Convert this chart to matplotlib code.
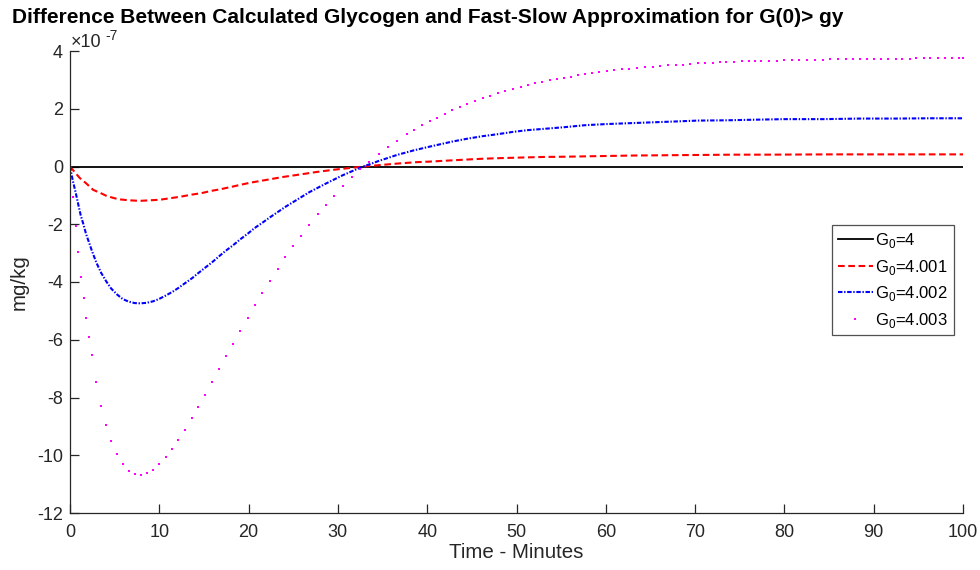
import numpy as np
import matplotlib
matplotlib.use("Agg")
import matplotlib.pyplot as plt

plt.rcParams['font.family'] = ['Liberation Sans', 'DejaVu Sans']
plt.rcParams['mathtext.fontset'] = 'custom'
plt.rcParams['mathtext.rm'] = 'Liberation Sans'
plt.rcParams['axes.unicode_minus'] = False
plt.rcParams['lines.scale_dashes'] = False

# difference values are in units of 1e-7 mg/kg, time in minutes
t_g4 = [0, 100]
d_g4 = [0, 0]

t_g4001 = [0, 0.6, 1.1, 1.8, 2.6, 3.5, 4.1, 5.0, 5.6, 6.6, 7.8, 9.0, 10.1, 11.4,
           12.3, 13.7, 14.6, 15.9, 16.8, 18.3, 19.0, 20.2, 21.5, 23.9, 25.9, 27.6,
           29.6, 31.4, 32.9, 35.1, 36.6, 38.8, 40.3, 42.6, 44.4, 46.3, 48.2, 50.5,
           53.0, 55.6, 59.3, 63.1, 66.8, 70.6, 74.3, 78.0, 85.5, 93.0, 100]
d_g4001 = [0, -0.22, -0.40, -0.58, -0.81, -0.93, -1.02, -1.10, -1.14, -1.17, -1.19,
           -1.17, -1.15, -1.09, -1.05, -0.97, -0.93, -0.84, -0.79, -0.69, -0.64, -0.56,
           -0.49, -0.36, -0.27, -0.19, -0.11, -0.05, 0.0, 0.06, 0.10, 0.15, 0.17, 0.21,
           0.24, 0.27, 0.29, 0.31, 0.33, 0.34, 0.36, 0.38, 0.39, 0.40, 0.41, 0.41, 0.42,
           0.42, 0.42]

t_g4002 = [0, 0.3, 0.64, 0.93, 1.2, 1.5, 1.8, 2.13, 2.43, 2.94, 3.5, 4.06, 4.59, 5.26,
           5.9, 6.57, 7.24, 7.91, 8.59, 9.29, 9.96, 10.71, 11.42, 12.12, 12.84, 13.66,
           14.33, 15.11, 15.9, 16.65, 17.43, 18.25, 19.03, 19.89, 20.68, 21.53, 22.39,
           23.25, 24.1, 25.0, 26.79, 28.66, 30.56, 32.5, 34.56, 36.61, 38.51, 40.3,
           42.76, 44.44, 46.2, 47.91, 49.63, 51.27, 52.91, 55.3, 57.65, 60.11, 62.65,
           65.23, 67.84, 70.3, 73.51, 76.57, 80.0, 84.3, 88.44, 92.46, 96.35, 100]
d_g4002 = [0, -0.47, -0.91, -1.32, -1.69, -2.0, -2.34, -2.63, -2.90, -3.32, -3.69,
           -3.98, -4.22, -4.43, -4.59, -4.68, -4.73, -4.74, -4.72, -4.67, -4.59, -4.47,
           -4.35, -4.21, -4.05, -3.87, -3.70, -3.51, -3.32, -3.12, -2.92, -2.73, -2.53,
           -2.33, -2.13, -1.95, -1.76, -1.58, -1.40, -1.23, -0.89, -0.59, -0.30, -0.04,
           0.19, 0.40, 0.56, 0.69, 0.86, 0.96, 1.05, 1.12, 1.20, 1.26, 1.30, 1.36, 1.43,
           1.47, 1.50, 1.53, 1.56, 1.59, 1.60, 1.62, 1.64, 1.64, 1.66, 1.66, 1.67, 1.67]

# solver output points for G0 = 4.003
t_g4003 = [0, 0.30, 0.64, 0.93, 1.20, 1.53, 1.79, 2.13, 2.43, 2.94, 3.50, 4.06, 4.59,
           5.26, 5.90, 6.57, 7.24, 7.91, 8.59, 9.29, 9.96, 10.71, 11.42, 12.12, 12.84,
           13.66, 14.33, 15.11, 15.90, 16.65, 17.43, 18.25, 19.03, 19.89, 20.68, 21.53,
           22.39, 23.25, 24.10, 25.00, 25.86, 26.79, 27.73, 28.66, 29.59, 30.56, 31.53,
           32.50, 33.50, 34.56, 35.60, 36.61, 37.69, 38.51, 39.40, 40.30, 41.08, 41.94,
           42.76, 43.62, 44.44, 45.34, 46.20, 47.05, 47.91, 48.73, 49.63, 50.45, 51.27,
           52.09, 52.91, 53.73, 54.51, 55.30, 56.08, 56.87, 57.65, 58.44, 59.25, 60.11,
           60.93, 61.79, 62.65, 63.51, 64.37, 65.23, 66.12, 66.98, 67.84, 68.66, 69.48,
           70.30, 71.12, 71.98, 72.80, 73.51, 74.37, 75.23, 76.05, 76.70, 77.39, 78.25,
           79.15, 79.96, 80.82, 81.68, 82.54, 83.40, 84.29, 85.15, 86.01, 86.87, 87.69,
           88.44, 89.25, 90.04, 90.86, 91.65, 92.46, 93.21, 94.03, 94.78, 95.60, 96.35,
           97.20, 98.03, 98.81, 99.55, 100.0]
d_g4003 = [0, -1.06, -2.05, -2.96, -3.81, -4.56, -5.26, -5.92, -6.54, -7.48, -8.30,
           -8.96, -9.49, -9.97, -10.32, -10.53, -10.66, -10.68, -10.63, -10.50, -10.32,
           -10.07, -9.79, -9.47, -9.11, -8.72, -8.32, -7.90, -7.48, -7.03, -6.58, -6.15,
           -5.70, -5.25, -4.80, -4.39, -3.97, -3.55, -3.14, -2.76, -2.40, -2.01, -1.65,
           -1.32, -1.01, -0.68, -0.38, -0.09, 0.14, 0.42, 0.67, 0.90, 1.11, 1.27, 1.42,
           1.56, 1.69, 1.83, 1.94, 2.05, 2.17, 2.26, 2.36, 2.44, 2.53, 2.61, 2.69, 2.76,
           2.83, 2.88, 2.93, 2.99, 3.03, 3.07, 3.11, 3.16, 3.21, 3.24, 3.28, 3.30, 3.33,
           3.36, 3.38, 3.40, 3.43, 3.45, 3.47, 3.50, 3.51, 3.53, 3.54, 3.57, 3.58, 3.59,
           3.61, 3.61, 3.62, 3.64, 3.64, 3.65, 3.66, 3.67, 3.67, 3.68, 3.68, 3.69, 3.69,
           3.70, 3.70, 3.72, 3.72, 3.72, 3.73, 3.73, 3.73, 3.73, 3.73, 3.74, 3.74, 3.74,
           3.74, 3.75, 3.75, 3.75, 3.75, 3.75, 3.76, 3.76, 3.76]

labels = [r'G$_{\mathregular{0}}$=4', r'G$_{\mathregular{0}}$=4.001',
          r'G$_{\mathregular{0}}$=4.002', r'G$_{\mathregular{0}}$=4.003']

axis_col = '#262626'

fig = plt.figure(figsize=(9.8, 5.7), dpi=100)
ax = fig.add_axes([70/980, 1 - 513/570, 893/980, 462/570])

ax.plot(t_g4, d_g4, color='k', lw=1.3, label=labels[0])
ax.plot(t_g4001, d_g4001, color='r', lw=1.5, dashes=(4.8, 2.6), label=labels[1])
ax.plot(t_g4002, d_g4002, color='b', lw=1.5, dashes=(3.2, 1.2, 1.0, 1.2), label=labels[2])
ax.plot(t_g4003, d_g4003, color='#ff00ff', ls='none', marker='s', ms=1.7, mew=0,
        label=labels[3])

ax.set_xlim(0, 100)
ax.set_ylim(-12, 4)
ax.set_xticks(np.arange(0, 101, 10))
ax.set_yticks(np.arange(-12, 5, 2))
ax.spines['top'].set_visible(False)
ax.spines['right'].set_visible(False)
for s in ('left', 'bottom'):
    ax.spines[s].set_color(axis_col)
    ax.spines[s].set_linewidth(0.9)
ax.tick_params(direction='in', length=6.5, width=0.9, color=axis_col,
               labelcolor=axis_col, labelsize=13)
ax.tick_params(axis='y', pad=5)
ax.tick_params(axis='x', pad=8)

ax.set_xlabel('Time - Minutes', fontsize=14.8, color=axis_col, labelpad=1)
ax.set_ylabel('mg/kg', fontsize=14.8, color=axis_col, labelpad=6)

# exponent label above the y axis
fig.text(71/980, 1 - 47/570, '\u00d710', fontsize=13, color=axis_col,
         ha='left', va='baseline')
fig.text(105/980, 1 - 40.5/570, '-7', fontsize=10, color=axis_col,
         ha='left', va='baseline')

fig.text(12/980, 1 - 23/570, 'Difference Between Calculated Glycogen and '
         'Fast-Slow Approximation for G(0)> gy', fontsize=15, fontweight='bold',
         ha='left', va='baseline')

leg = ax.legend(loc='upper left', bbox_to_anchor=(0.853, 0.623), fontsize=12,
                frameon=True, fancybox=False, borderaxespad=0, handlelength=2.1,
                handletextpad=0.15, labelspacing=0.45, borderpad=0.35, numpoints=1)
leg.get_frame().set_edgecolor(axis_col)
leg.get_frame().set_linewidth(0.9)

fig.savefig('out.png', dpi=100)
